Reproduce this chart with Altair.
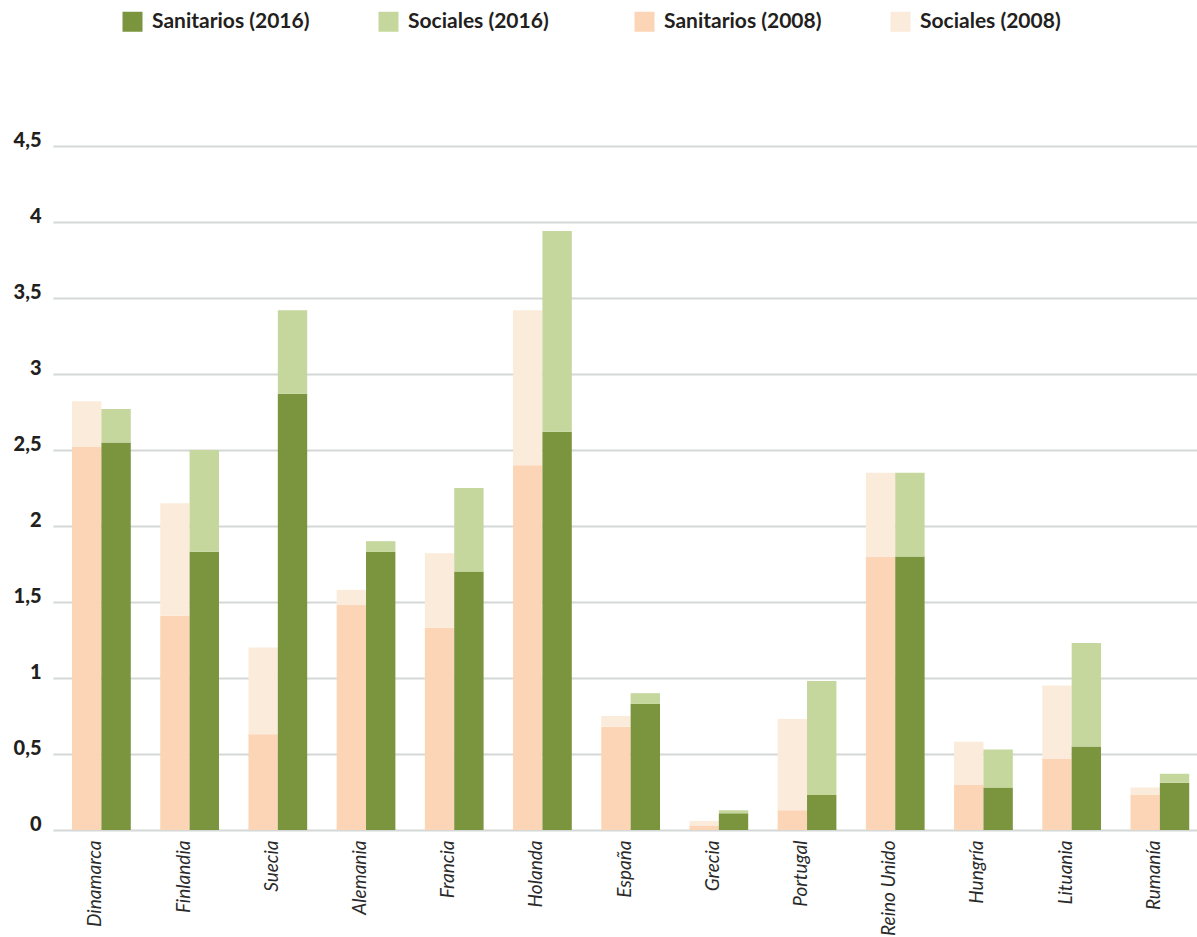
import altair as alt
import pandas as pd

# Countries in display order
paises = ["Dinamarca", "Finlandia", "Suecia", "Alemania", "Francia", "Holanda",
          "España", "Grecia", "Portugal", "Reino Unido", "Hungría", "Lituania", "Rumanía"]

# Components of each stacked bar
sanitarios_2008 = [2.52, 1.41, 0.63, 1.48, 1.33, 2.40, 0.68, 0.03, 0.13, 1.80, 0.30, 0.47, 0.23]
sociales_2008 = [0.30, 0.74, 0.57, 0.10, 0.49, 1.02, 0.07, 0.03, 0.60, 0.55, 0.28, 0.48, 0.05]
sanitarios_2016 = [2.55, 1.83, 2.87, 1.83, 1.70, 2.62, 0.83, 0.11, 0.23, 1.80, 0.28, 0.55, 0.31]
sociales_2016 = [0.22, 0.67, 0.55, 0.07, 0.55, 1.32, 0.07, 0.02, 0.75, 0.55, 0.25, 0.68, 0.06]

series = ["Sanitarios (2016)", "Sociales (2016)", "Sanitarios (2008)", "Sociales (2008)"]
colores = ["#7a953d", "#c5d79c", "#fcd5b6", "#fbebda"]
y_ticks = [0, 0.5, 1, 1.5, 2, 2.5, 3, 3.5, 4, 4.5]

rows = []
for i, p in enumerate(paises):
    for anio, san, soc in (("2008", sanitarios_2008[i], sociales_2008[i]),
                           ("2016", sanitarios_2016[i], sociales_2016[i])):
        rows.append({"pais": p, "anio": anio, "serie": f"Sanitarios ({anio})",
                     "inicio": 0.0, "fin": san})
        rows.append({"pais": p, "anio": anio, "serie": f"Sociales ({anio})",
                     "inicio": san, "fin": san + soc})
df = pd.DataFrame(rows)

chart = alt.Chart(df).mark_bar().encode(
    x=alt.X("pais:N", sort=paises, title=None,
            scale=alt.Scale(paddingInner=0.334, paddingOuter=0.152, align=0.71),
            axis=alt.Axis(labelAngle=270, labelFont="Lato", labelFontStyle="italic",
                          labelFontSize=19, labelColor="#2a2a2a", labelPadding=10,
                          labelBaseline="alphabetic", labelAlign="right",
                          domain=False, ticks=False, grid=False)),
    xOffset=alt.XOffset("anio:N", sort=["2008", "2016"],
                        scale=alt.Scale(paddingInner=0, paddingOuter=0)),
    y=alt.Y("inicio:Q", title=None,
            scale=alt.Scale(domain=[0, 4.5], nice=False),
            axis=alt.Axis(values=y_ticks,
                          labelExpr="replace(toString(datum.value), '.', ',')",
                          labelFont="Lato", labelFontWeight=900, labelFontSize=20,
                          labelColor="#231f20", labelPadding=12,
                          labelBaseline="alphabetic",
                          domain=False, ticks=False,
                          gridColor="#d4d8d7", gridWidth=2)),
    y2="fin:Q",
    color=alt.Color("serie:N", sort=series,
                    scale=alt.Scale(domain=series, range=colores),
                    legend=alt.Legend(title=None, orient="none", direction="horizontal",
                                      columns=4, gridAlign="all",
                                      legendX=69, legendY=-135,
                                      symbolType="square", symbolSize=400,
                                      symbolStrokeWidth=0, symbolOpacity=1,
                                      labelFont="Lato", labelFontWeight="bold",
                                      labelFontSize=21, labelColor="#231f20",
                                      labelOffset=9, columnPadding=68,
                                      labelLimit=300, padding=0)),
).properties(
    width=1144,
    height=684,
    autosize=alt.AutoSizeParams(type="none"),
    padding={"left": 53, "top": 146, "right": 0, "bottom": 107},
).configure_view(stroke=None)

chart.save("out.html", embed_options={"renderer": "svg", "actions": False})
